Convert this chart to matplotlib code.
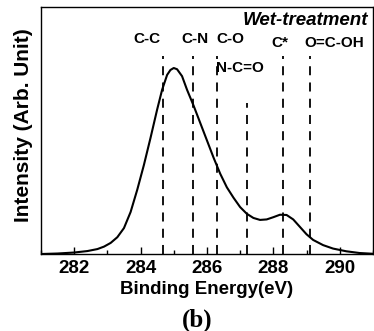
import matplotlib
matplotlib.use("Agg")
import matplotlib.pyplot as plt
from matplotlib.ticker import MultipleLocator

# C1s spectrum (intensity as fraction of axis height)
energy = [281.0, 281.5, 282.0, 282.4, 282.7, 282.9, 283.1, 283.3, 283.5, 283.7,
          283.9, 284.1, 284.3, 284.5, 284.65, 284.8, 284.9, 285.0, 285.1, 285.25,
          285.4, 285.6, 285.8, 286.0, 286.2, 286.4, 286.6, 286.8, 287.0, 287.2,
          287.4, 287.6, 287.8, 288.0, 288.2, 288.4, 288.6, 288.8, 289.0, 289.2,
          289.5, 289.8, 290.2, 290.6, 291.0]
intensity = [0.0, 0.002, 0.006, 0.012, 0.02, 0.03, 0.045, 0.068, 0.105, 0.17,
             0.26, 0.36, 0.47, 0.585, 0.665, 0.725, 0.745, 0.753, 0.748, 0.72,
             0.665, 0.6, 0.53, 0.46, 0.39, 0.325, 0.27, 0.228, 0.19, 0.163,
             0.146, 0.138, 0.14, 0.149, 0.159, 0.158, 0.14, 0.11, 0.08, 0.057,
             0.036, 0.022, 0.011, 0.004, 0.001]

# reference binding energies for the components
peak_names = ["C-C", "C-N", "C-O", "N-C=O", "C*", "O=C-OH"]
peak_pos = [284.67, 285.58, 286.3, 287.2, 288.29, 289.1]
line_top = [0.80, 0.80, 0.80, 0.61, 0.80, 0.80]

plt.rcParams['font.family'] = ['Liberation Sans', 'DejaVu Sans']

fig = plt.figure(figsize=(3.74, 3.31), dpi=100)
ax = fig.add_axes([0.1096, 0.2326, 0.8874, 0.7463])

ax.plot(energy, intensity, color='black', lw=1.5)

for pos, top in zip(peak_pos, line_top):
    ax.plot([pos, pos], [0, top], color='black', lw=1.3, dashes=(5, 4))

label_xy = {
    "C-C": (284.19, 0.87),
    "C-N": (285.63, 0.87),
    "C-O": (286.72, 0.87),
    "N-C=O": (287.0, 0.753),
    "C*": (288.2, 0.855),
    "O=C-OH": (289.83, 0.855),
}
for name in peak_names:
    x, y = label_xy[name]
    ax.text(x, y, name, ha='center', va='center', fontsize=11, fontweight='bold')

ax.text(0.985, 0.945, "Wet-treatment", transform=ax.transAxes, ha='right',
        va='center', fontsize=13.5, fontweight='bold', fontstyle='italic')

ax.set_xlim(281, 291)
ax.set_ylim(0, 1)
ax.xaxis.set_major_locator(MultipleLocator(2))
ax.xaxis.set_minor_locator(MultipleLocator(1))
ax.tick_params(axis='x', which='both', direction='in', top=False, labelsize=13.5, pad=4)
ax.tick_params(axis='x', which='major', length=5, width=1)
ax.tick_params(axis='x', which='minor', length=3, width=1)
for lab in ax.get_xticklabels():
    lab.set_fontweight('bold')
ax.set_yticks([])
for sp in ax.spines.values():
    sp.set_linewidth(1.0)

ax.set_xlabel("Binding Energy(eV)", fontsize=13.5, fontweight='bold', labelpad=3)
ax.set_ylabel("Intensity (Arb. Unit)", fontsize=15, fontweight='bold')
ax.yaxis.set_label_coords(-0.024, 0.522)

fig.text(0.527, 0.012, "(b)", ha='center', va='baseline', fontsize=18,
         fontweight='bold', family=['Liberation Serif', 'DejaVu Serif'])

fig.savefig("out.png", dpi=100)
